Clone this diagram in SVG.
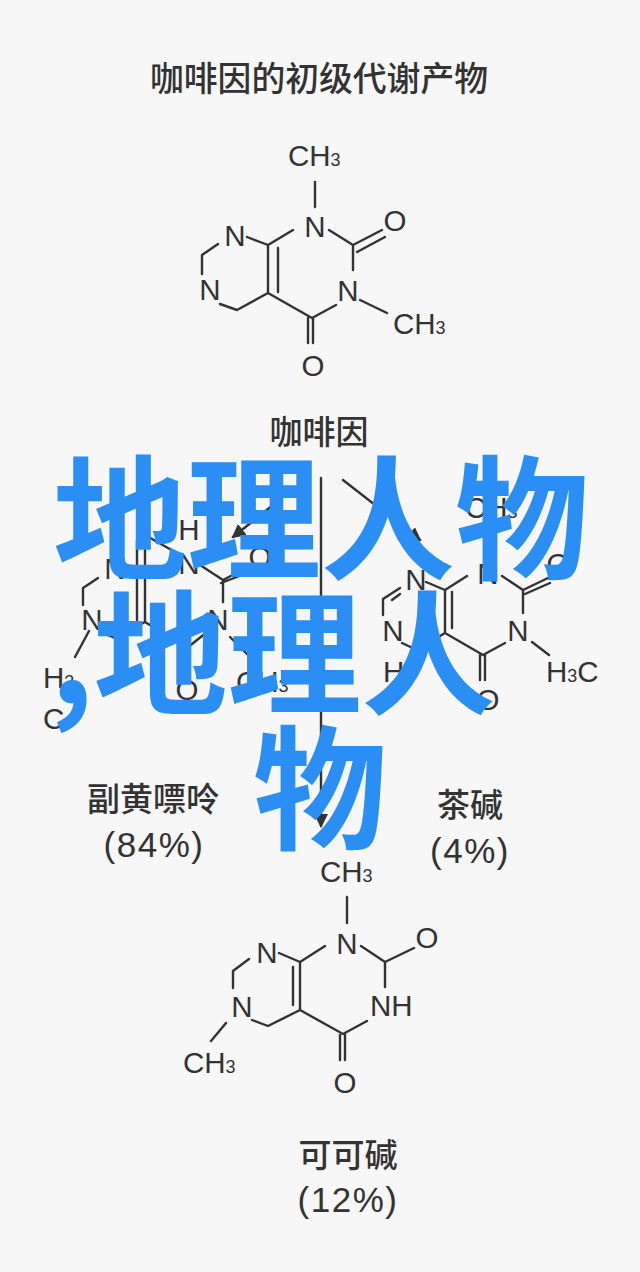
<svg xmlns="http://www.w3.org/2000/svg" width="640" height="1272" viewBox="0 0 640 1272">
<style>
.b{fill:none;stroke:#333;stroke-width:2.4;stroke-linecap:round;stroke-linejoin:round}
.a{font-family:"Liberation Sans",Arial,sans-serif;font-size:29.5px;fill:#333}
.m{text-anchor:middle}
.s{font-size:18px}
.c{font-family:"Noto Sans CJK SC",sans-serif;font-size:33px;font-weight:500;fill:#333;text-anchor:middle}
.p{font-family:"Liberation Sans",Arial,sans-serif;font-size:35px;letter-spacing:1.5px;fill:#333;text-anchor:middle}
.big{font-family:"Noto Sans CJK SC",sans-serif;font-size:134px;font-weight:700;fill:#2a8ef5}
</style>
<defs>
<marker id="h2" markerWidth="14" markerHeight="16" refX="12" refY="7" orient="auto" markerUnits="userSpaceOnUse"><path d="M0 0L14 7L0 14Z" fill="#333"/></marker>
</defs>
<rect width="640" height="1272" fill="#f7f7f7"/>
<g id="title"><text class="c" x="319" y="91" style="font-size:33.8px">咖啡因的初级代谢产物</text></g>
<g id="paraxanthine-top">
<path class="b" d="M315 182V207M329 230L353 245L382 230M357 252L385 237M353 245V270M336 305L312 318L268 293V245L293 230M308 318V343M313 318V343M278 248V292M247 237L268 245M218 244L202 255V274M220 304L237 310L268 293M360 300L387 313"/>
<text class="a m" x="315" y="237">N</text><text class="a m" x="395" y="231">O</text><text class="a m" x="348" y="301">N</text><text class="a m" x="235" y="246">N</text><text class="a m" x="210" y="300">N</text><text class="a m" x="313" y="376">O</text>
<text class="a" x="288" y="166">CH<tspan class="s">3</tspan></text><text class="a" x="393" y="334">CH<tspan class="s">3</tspan></text>
</g>
<g id="caffeine"><text class="c" x="319" y="444">咖啡因</text></g>
<g id="connectors">
<path class="b" d="M283 497L233 537" marker-end="url(#h2)"/>
<path class="b" d="M321 478V826" marker-end="url(#h2)"/>
<path class="b" d="M343 480L420 540" marker-end="url(#h2)"/>
</g>
<g id="paraxanthine">
<path class="b" d="M98 578L83 588V605M115 638L100 632M137 540V620M145 535V622M145 622L187 648L207 632M200 565L223 580L248 567M221 583L250 572M223 580V602M230 637L250 657M89 631L75 657M145 535L175 552M145 622L115 638"/>
<text class="a m" x="115" y="579">N</text><text class="a m" x="92" y="630">N</text><text class="a m" x="189" y="574">N</text><text class="a m" x="218" y="630">N</text><text class="a m" x="189" y="540">H</text><text class="a m" x="260" y="567">O</text><text class="a m" x="187" y="700">O</text>
<text class="a" x="43" y="688">H<tspan class="s">3</tspan></text><text class="a" x="43" y="729">C</text>
<text class="a" x="236" y="692">CH<tspan class="s">3</tspan></text>
</g>
<g id="theophylline">
<path class="b" d="M467 576L445 590V633L483 655L505 643M452 592V628M426 582L445 590M400 588L383 599V615M392 600L400 594M402 643L417 650L445 633M502 576L523 590L548 578M525 594L550 583M523 590V613M532 642L549 655M480 655V680M485 655V680"/>
<text class="a m" x="488" y="584">N</text><text class="a m" x="558" y="574">O</text><text class="a m" x="518" y="641">N</text><text class="a m" x="416" y="590">N</text><text class="a m" x="393" y="641">N</text><text class="a m" x="488" y="710">O</text>
<text class="a" x="465" y="518">CH<tspan class="s">3</tspan></text><text class="a" x="383" y="682">H</text><text class="a" x="546" y="682">H<tspan class="s">3</tspan>C</text>
</g>
<g id="theobromine">
<path class="b" d="M347 897V923M325 946L300 962V1010M293 967V1005M279 953L300 962M249 959L233 971V988M252 1020L268 1026L300 1010L343 1034L367 1021M361 946L385 962V987M385 962L414 948M340 1034V1060M345 1034V1060M226 1023L211 1041"/>
<text class="a m" x="347" y="954">N</text><text class="a m" x="267" y="963">N</text><text class="a m" x="242" y="1017">N</text><text class="a m" x="427" y="948">O</text><text class="a m" x="345" y="1093">O</text><text class="a" x="370" y="1016">NH</text>
<text class="a" x="320" y="882">CH<tspan class="s">3</tspan></text><text class="a" x="183" y="1073">CH<tspan class="s">3</tspan></text>
</g>
<g id="label-paraxanthine"><text class="c" x="153" y="811">副黄嘌呤</text><text class="p" x="154" y="857">(84%)</text></g>
<g id="label-theophylline"><text class="c" x="470" y="817">茶碱</text><text class="p" x="470" y="863">(4%)</text></g>
<g id="label-theobromine"><text class="c" x="348" y="1167">可可碱</text><text class="p" x="348" y="1212">(12%)</text></g>
<g id="overlay">
<text class="big" x="53" y="569">地理人物</text>
<text class="big" x="50" y="704">,地理人</text>
<text class="big" x="253" y="839">物</text>
</g>
</svg>
